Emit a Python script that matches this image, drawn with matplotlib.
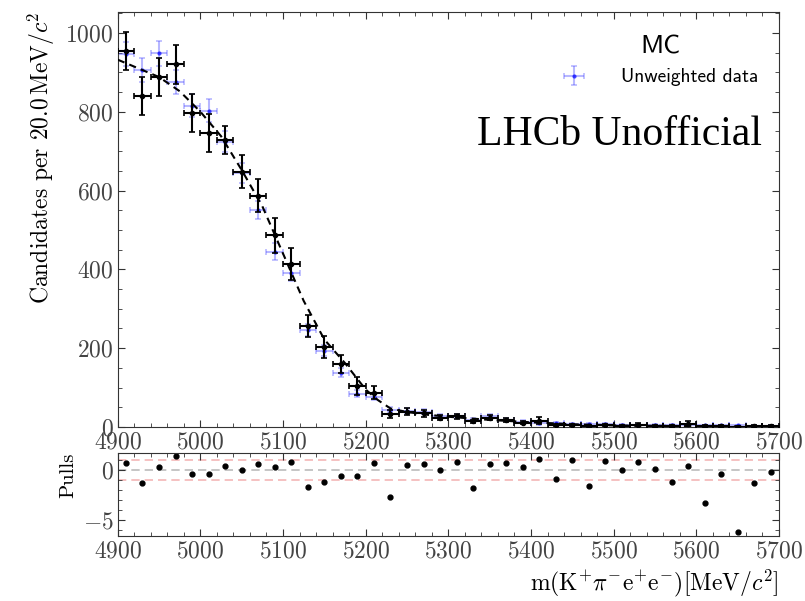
import matplotlib
matplotlib.use("Agg")
import matplotlib.pyplot as plt
import numpy as np
from matplotlib.ticker import MultipleLocator

# Bin centres of the invariant-mass histogram (20 MeV bins, 4900-5700)
mass = np.arange(4910, 5700, 20)

# Weighted MC candidates per bin and their uncertainties
weighted = [954, 840, 888, 920, 796, 746, 728, 648, 587, 486,
            414, 256, 204, 160, 104, 87, 34, 39, 35, 24,
            27, 14, 24, 17, 11, 16, 5, 5, 3, 5,
            3, 6, 3, 3, 8, 2, 3, 1, 2, 2]
weighted_err = [49, 48, 49, 50, 48, 48, 35, 42, 42, 44,
                40, 28, 28, 22, 22, 16, 10, 9, 9, 7,
                7, 5, 7, 5, 4, 9, 3, 3, 2, 3,
                2, 3, 2, 2, 6, 2, 2, 1, 2, 2]

# Unweighted MC candidates per bin and their uncertainties
unweighted = [946, 906, 948, 876, 815, 803, 724, 645, 551, 445,
              391, 246, 194, 138, 84, 77, 44, 41, 39, 29,
              28, 19, 27, 19, 13, 9, 9, 8, 7, 7,
              6, 6, 5, 5, 5, 4, 4, 4, 3, 3]
unweighted_err = [31, 30, 31, 30, 29, 28, 27, 25, 23, 21,
                  20, 16, 14, 12, 9, 9, 7, 6, 6, 5,
                  5, 4, 5, 4, 4, 3, 3, 3, 3, 3,
                  2, 2, 2, 2, 2, 2, 2, 2, 2, 2]

# Fitted model evaluated along the mass axis
fit_mass = [4900, 4925, 4950, 4975, 5000, 5025, 5050, 5075, 5100, 5125,
            5150, 5175, 5200, 5215, 5230, 5250, 5275, 5300, 5350, 5400,
            5450, 5500, 5600, 5700]
fit_value = [932, 910, 888, 852, 800, 738, 652, 560, 440, 320,
             222, 162, 95, 68, 47, 38, 31, 26, 18, 12,
             7, 4, 2, 1]

# Pulls of the weighted data with respect to the fit
pulls = [0.67, -1.3, 0.27, 1.33, -0.4, -0.43, 0.37, 0.0, 0.57, 0.33,
         0.8, -1.67, -1.23, -0.6, -0.6, 0.7, -2.67, 0.5, 0.6, 0.0,
         0.77, -1.8, 0.53, 0.7, 0.27, 1.1, -0.9, 1.0, -1.57, 0.87,
         0.0, 0.77, 0.07, -1.17, 0.37, -3.27, -0.43, -6.23, -1.3, -0.23]

plt.rcParams.update({
    "font.family": "cmr10",
    "mathtext.fontset": "cm",
    "axes.formatter.use_mathtext": True,
    "axes.unicode_minus": True,
    "xtick.direction": "in",
    "ytick.direction": "in",
    "xtick.top": True,
    "ytick.right": True,
    "xtick.major.size": 5,
    "ytick.major.size": 5,
    "xtick.minor.size": 3,
    "ytick.minor.size": 3,
    "xtick.minor.visible": True,
    "ytick.minor.visible": True,
    "axes.edgecolor": "#333333",
    "xtick.color": "#333333",
    "ytick.color": "#333333",
    "xtick.labelcolor": "#444444",
    "ytick.labelcolor": "#444444",
})

W, H = 805, 601
fig = plt.figure(figsize=(W / 100, H / 100), dpi=100)

def box(l, t, r, b):
    return [l / W, 1 - b / H, (r - l) / W, (b - t) / H]

ax = fig.add_axes(box(117.7, 12, 779, 427))
axp = fig.add_axes(box(117.7, 452.7, 779, 536))

half = np.full(len(mass), 10.0)

ax.errorbar(mass, unweighted, xerr=half, yerr=unweighted_err, fmt="o",
            ms=3, color="blue", ecolor=(0.3, 0.3, 1.0, 0.4), mfc=(0, 0, 1, 0.7),
            mec="none", elinewidth=1.5, capsize=2.5, capthick=1.2,
            label="Unweighted data", zorder=2)
ax.errorbar(mass, weighted, xerr=half, yerr=weighted_err, fmt="o",
            ms=3, color="black", ecolor="black", elinewidth=1.5,
            capsize=2.5, capthick=1.2, zorder=3)
ax.plot(fit_mass, fit_value, color="black", ls=(0, (3.5, 2.5)), lw=1.5, zorder=4)

ax.set_xlim(4900, 5700)
ax.set_ylim(0, 1053)
ax.xaxis.set_major_locator(MultipleLocator(100))
ax.xaxis.set_minor_locator(MultipleLocator(20))
ax.yaxis.set_major_locator(MultipleLocator(200))
ax.yaxis.set_minor_locator(MultipleLocator(50))
ax.tick_params(labelsize=17, pad=3)
ax.set_ylabel(r"Candidates per $20.0\,\mathrm{MeV}/c^{2}$", fontsize=17,
              labelpad=6, loc="top")

leg = ax.legend(loc="upper right", bbox_to_anchor=(0.995, 0.985), frameon=False,
                title="MC", prop={"family": "cmss10", "size": 14},
                handlelength=1.2, handletextpad=1.8)
leg.get_title().set_fontfamily("cmss10")
leg.get_title().set_fontsize(19)

ax.text(0.974, 0.705, "LHCb Unofficial", transform=ax.transAxes,
        ha="right", va="center", fontsize=30, family="Liberation Serif")

# Pull panel
axp.plot(mass, pulls, "o", color="black", ms=3.5)
axp.axhline(0, color="#bbbbbb", ls=(0, (5, 3)), lw=1.2, zorder=0)
axp.axhline(1, color="#f4b6b6", ls=(0, (5, 3)), lw=1.2, zorder=0)
axp.axhline(-1, color="#f4b6b6", ls=(0, (5, 3)), lw=1.2, zorder=0)
axp.set_xlim(4900, 5700)
axp.xaxis.set_major_locator(MultipleLocator(100))
axp.xaxis.set_minor_locator(MultipleLocator(20))
axp.yaxis.set_major_locator(MultipleLocator(5))
axp.yaxis.set_minor_locator(MultipleLocator(1))
axp.tick_params(labelsize=17, pad=3)
axp.set_ylabel("Pulls", fontsize=15, labelpad=4, loc="top")
axp.set_xlabel(r"$\mathrm{m(K^{+}\pi^{-}e^{+}e^{-})[MeV/}c^{2}\mathrm{]}$",
               fontsize=17, loc="right", labelpad=4)

fig.savefig("out.png", dpi=100)
